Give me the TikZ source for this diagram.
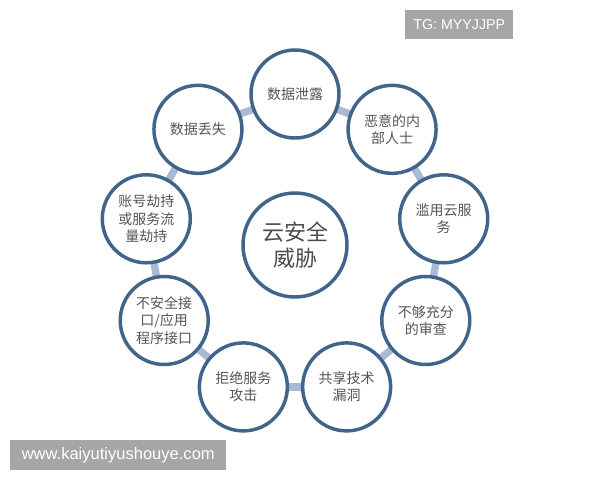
\documentclass[tikz,border=0pt]{standalone}
\usepackage{fontspec}
\newfontfamily\cjk{Noto Sans CJK SC}
\newfontfamily\wmfont{Liberation Sans}
\pgfdeclarelayer{bg}
\pgfsetlayers{bg,main}
\definecolor{ringblue}{HTML}{41648A}
\definecolor{linkblue}{HTML}{AAB9D6}
\definecolor{txtgray}{HTML}{555555}
\definecolor{wmgray}{HTML}{A6A6A6}
\tikzset{
  threat/.style={circle, draw=ringblue, line width=2.6pt, fill=white,
    minimum size=66pt, inner sep=0pt, align=center, text=txtgray,
    font=\cjk\fontsize{10.5}{13}\selectfont},
  core/.style={threat, minimum size=78pt, text=black!70,
    font=\cjk\fontsize{16.5}{19}\selectfont},
  link/.style={draw=linkblue, line width=5.5pt},
  wm/.style={fill=wmgray, text=white, inner sep=0pt, anchor=north west}
}
\begin{document}
\begin{tikzpicture}[x=0.75pt,y=-0.75pt]
\useasboundingbox (0,0) rectangle (600,480);
\begin{scope}[shift={(295,245)}]
  \node[core] (c) at (0,0) {云安全\\威胁};
  \node[threat] (t1) at (-90:151) {数据泄露};
  \node[threat] (t2) at (-50:151) {恶意的内\\部人士};
  \node[threat] (t3) at (-10:151) {滥用云服\\务};
  \node[threat] (t4) at (30:151) {不够充分\\的审查};
  \node[threat] (t5) at (70:151) {共享技术\\漏洞};
  \node[threat] (t6) at (110:151) {拒绝服务\\攻击};
  \node[threat] (t7) at (150:151) {不安全接\\口/应用\\程序接口};
  \node[threat] (t8) at (190:151) {账号劫持\\或服务流\\量劫持};
  \node[threat] (t9) at (230:151) {数据丢失};
\end{scope}
\begin{pgfonlayer}{bg}
  \fill[white] (0,0) rectangle (600,480);
  \foreach \a/\b in {t1/t2,t2/t3,t3/t4,t4/t5,t5/t6,t6/t7,t7/t8,t8/t9,t9/t1}
    \draw[link] (\a.center) -- (\b.center);
\end{pgfonlayer}
\node[wm, minimum width=81pt, minimum height=21.75pt] (tg) at (405,10)
  {\wmfont\fontsize{10.7}{12}\selectfont TG: MYYJJPP};
\node[wm, minimum width=162pt, minimum height=22.5pt] (web) at (10,440)
  {\wmfont\fontsize{12.4}{14}\selectfont www.kaiyutiyushouye.com};
\end{tikzpicture}
\end{document}
